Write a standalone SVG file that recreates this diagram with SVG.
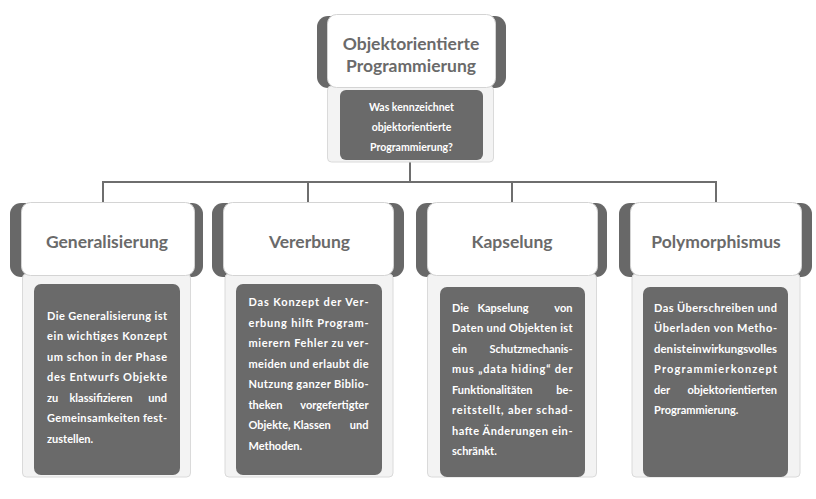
<svg xmlns="http://www.w3.org/2000/svg" width="816" height="499" viewBox="0 0 816 499">
<defs>
<style>
.tab{fill:#686868}
.head{fill:#ffffff;stroke:#d4d4d4;stroke-width:1}
.panel{fill:#f3f3f3;stroke:#dadada;stroke-width:1}
.inner{fill:#6a6a6a}
.title{font-family:Lato,"Open Sans",sans-serif;font-weight:700;font-size:17.5px;fill:#6a6a6a;text-anchor:middle}
.q{font-family:Lato,"Open Sans",sans-serif;font-weight:700;font-size:10.5px;fill:#ffffff;text-anchor:middle}
.b{font-family:Lato,"Open Sans",sans-serif;font-weight:700;font-size:11px;fill:#ffffff}
.e{text-anchor:end}
.m{text-anchor:middle}
.conn{fill:none;stroke:#6e6e6e;stroke-width:2}
</style>
</defs>
<rect width="816" height="499" fill="#ffffff"/>

<g id="connectors">
<path class="conn" d="M410 162 V182 M103 182 H716 M103 181 V203 M308 181 V203 M512 181 V203 M716 181 V203"/>
</g>

<g id="root">
<rect class="tab" x="317" y="16" width="189" height="72" rx="11"/>
<rect class="panel" x="327.5" y="86" width="166" height="76" rx="4"/>
<rect class="head" x="327.5" y="14.5" width="168" height="73" rx="9"/>
<rect class="inner" x="340" y="90" width="143" height="70" rx="6"/>
<text class="title" x="411" y="49.5">Objektorientierte</text>
<text class="title" x="411" y="72">Programmierung</text>
<text class="q" x="411.5" y="110.5">Was kennzeichnet</text>
<text class="q" x="411.5" y="130.5">objektorientierte</text>
<text class="q" x="411.5" y="150.5">Programmierung?</text>
</g>

<g id="generalisierung">
<rect class="tab" x="10" y="203" width="193" height="74" rx="11"/>
<rect class="panel" x="22.5" y="274" width="168" height="203" rx="4"/>
<rect class="head" x="21.5" y="202.5" width="173" height="73" rx="9"/>
<rect class="inner" x="34" y="284" width="146" height="191" rx="7"/>
<text class="title" x="107" y="248">Generalisierung</text>
<text class="b" x="47" y="319.5" textLength="120" lengthAdjust="spacing">Die Generalisierung ist</text>
<text class="b" x="47" y="340" textLength="120" lengthAdjust="spacing">ein wichtiges Konzept</text>
<text class="b" x="47" y="360.5" textLength="120" lengthAdjust="spacing">um schon in der Phase</text>
<text class="b" x="47" y="381" textLength="120" lengthAdjust="spacing">des Entwurfs Objekte</text>
<text class="b" x="47" y="401.5">zu</text><text class="b m" x="101" y="401.5">klassifizieren</text><text class="b e" x="167" y="401.5">und</text>
<text class="b" x="47" y="422" textLength="120" lengthAdjust="spacing">Gemeinsamkeiten fest-</text>
<text class="b" x="47" y="442.5">zustellen.</text>
</g>

<g id="vererbung">
<rect class="tab" x="212" y="203" width="192" height="74" rx="11"/>
<rect class="panel" x="225" y="274" width="168" height="203" rx="4"/>
<rect class="head" x="223.5" y="202.5" width="170" height="73" rx="9"/>
<rect class="inner" x="236" y="284" width="146" height="191" rx="7"/>
<text class="title" x="309.5" y="248">Vererbung</text>
<text class="b" x="248.5" y="306" textLength="120" lengthAdjust="spacing">Das Konzept der Ver-</text>
<text class="b" x="248.5" y="326.5" textLength="120" lengthAdjust="spacing">erbung hilft Program-</text>
<text class="b" x="248.5" y="347" textLength="120" lengthAdjust="spacing">mierern Fehler zu ver-</text>
<text class="b" x="248.5" y="367.5" textLength="120" lengthAdjust="spacing">meiden und erlaubt die</text>
<text class="b" x="248.5" y="388" textLength="120" lengthAdjust="spacing">Nutzung ganzer Biblio-</text>
<text class="b" x="248.5" y="408.5">theken</text><text class="b e" x="368.5" y="408.5">vorgefertigter</text>
<text class="b" x="248.5" y="429">Objekte,</text><text class="b m" x="312" y="429">Klassen</text><text class="b e" x="368.5" y="429">und</text>
<text class="b" x="248.5" y="449.5">Methoden.</text>
</g>

<g id="kapselung">
<rect class="tab" x="416" y="203" width="191" height="74" rx="11"/>
<rect class="panel" x="427.5" y="274" width="169" height="203" rx="4"/>
<rect class="head" x="427.5" y="202.5" width="170" height="73" rx="9"/>
<rect class="inner" x="440" y="287" width="145" height="190" rx="7"/>
<text class="title" x="512" y="248">Kapselung</text>
<text class="b" x="452" y="311.5">Die</text><text class="b m" x="503" y="311.5">Kapselung</text><text class="b e" x="572.5" y="311.5">von</text>
<text class="b" x="452" y="332" textLength="120.5" lengthAdjust="spacing">Daten und Objekten ist</text>
<text class="b" x="452" y="352.5">ein</text><text class="b e" x="572.5" y="352.5">Schutzmechanis-</text>
<text class="b" x="452" y="373" textLength="120.5" lengthAdjust="spacing">mus „data hiding“ der</text>
<text class="b" x="452" y="393.5">Funktionalitäten</text><text class="b e" x="572.5" y="393.5">be-</text>
<text class="b" x="452" y="414" textLength="120.5" lengthAdjust="spacing">reitstellt, aber schad-</text>
<text class="b" x="452" y="434.5" textLength="120.5" lengthAdjust="spacing">hafte Änderungen ein-</text>
<text class="b" x="452" y="455">schränkt.</text>
</g>

<g id="polymorphismus">
<rect class="tab" x="619" y="203" width="193" height="74" rx="11"/>
<rect class="panel" x="632" y="274" width="168" height="203" rx="4"/>
<rect class="head" x="630.5" y="202.5" width="171" height="73" rx="9"/>
<rect class="inner" x="643" y="287" width="145" height="190" rx="7"/>
<text class="title" x="716" y="248">Polymorphismus</text>
<text class="b" x="654" y="311.5" textLength="123" lengthAdjust="spacing">Das Überschreiben und</text>
<text class="b" x="654" y="332" textLength="123" lengthAdjust="spacing">Überladen von Metho-</text>
<text class="b" x="654" y="352.5" textLength="123" lengthAdjust="spacingAndGlyphs" word-spacing="-2">den ist ein wirkungsvolles</text>
<text class="b" x="654" y="373" textLength="123" lengthAdjust="spacing">Programmierkonzept</text>
<text class="b" x="654" y="393.5">der</text><text class="b e" x="777" y="393.5">objektorientierten</text>
<text class="b" x="654" y="414">Programmierung.</text>
</g>
</svg>
